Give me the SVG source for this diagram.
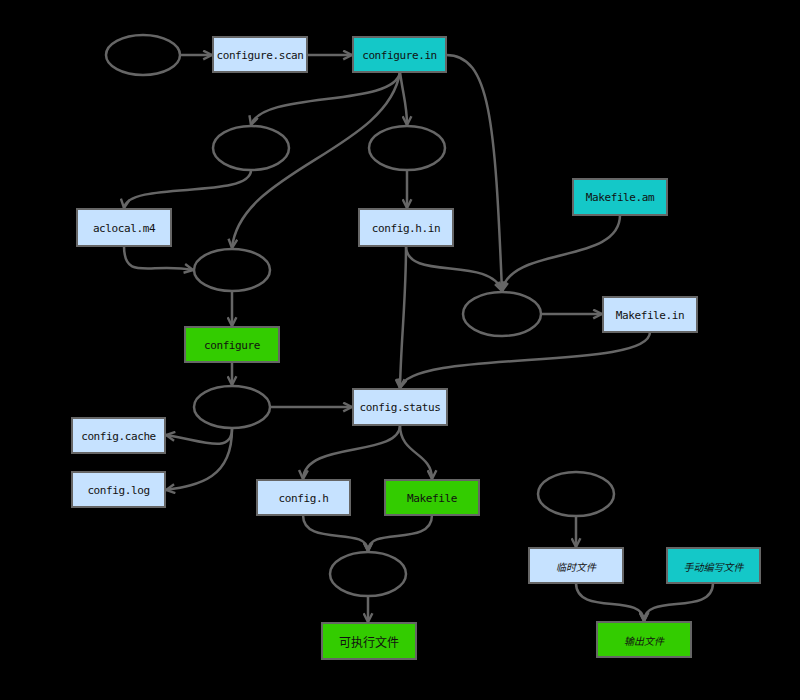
<svg xmlns="http://www.w3.org/2000/svg" width="800" height="700" viewBox="0 0 800 700">
<style>
.box{stroke:#666;stroke-width:2}
.tmp{fill:#c6e2ff}
.man{fill:#14c8c8}
.out{fill:#33cc00}
.ell{fill:none;stroke:#666;stroke-width:2.5}
.t{font-family:"DejaVu Sans Mono","Liberation Mono",monospace;font-size:11px;letter-spacing:-0.4px;fill:#111;text-anchor:middle;dominant-baseline:central}
.c{font-family:"Noto Sans CJK SC","Noto Sans",sans-serif;font-size:12px;fill:#111;text-anchor:middle;dominant-baseline:central}
.ci{font-family:"Noto Sans CJK SC","Noto Sans",sans-serif;font-size:10px;font-style:italic;fill:#111;text-anchor:middle;dominant-baseline:central}
#edges path{fill:none;stroke:#666;stroke-width:2.5;marker-end:url(#arr)}
</style>
<defs>
<marker id="arr" viewBox="0 0 10 10" refX="9" refY="5" markerWidth="4.4" markerHeight="4.4" orient="auto" markerUnits="strokeWidth">
<path d="M1,1 L9,5 L1,9" fill="none" stroke="#666" stroke-width="2.2"/>
</marker>
</defs>
<rect width="800" height="700" fill="#000"/>
<g id="edges">
<path d="M180,55 L212,55"/>
<path d="M307,55 L352,55"/>
<path d="M400,72 C395,108 262,90 251,125"/>
<path d="M400,72 C403,95 407,105 407,125"/>
<path d="M400,72 C388,150 240,170 232,248"/>
<path d="M446,55 C490,55 495,120 502,291"/>
<path d="M251,170 C251,200 128,180 124,208"/>
<path d="M407,170 L407,208"/>
<path d="M124,246 C124,282 150,262 193,270"/>
<path d="M406,246 C406,282 490,255 502,291"/>
<path d="M406,246 C406,300 401,340 400,388"/>
<path d="M620,215 C620,265 510,245 502,291"/>
<path d="M541,314 L602,314"/>
<path d="M650,332 C650,372 410,348 400,388"/>
<path d="M232,292 L232,326"/>
<path d="M232,362 L232,385"/>
<path d="M270,407 L352,407"/>
<path d="M232,429 C232,455 200,440 166,435"/>
<path d="M232,429 C232,478 200,485 166,490"/>
<path d="M400,425 C400,458 305,440 303,479"/>
<path d="M400,425 C400,455 432,452 432,479"/>
<path d="M303,515 C303,548 368,525 368,551"/>
<path d="M432,515 C432,548 368,525 368,551"/>
<path d="M368,596 L368,622"/>
<path d="M576,516 L576,547"/>
<path d="M576,583 C576,617 644,592 644,621"/>
<path d="M713,583 C713,617 644,592 644,621"/>
</g>
<g id="e1"><ellipse class="ell" cx="143" cy="55" rx="37" ry="20"/></g>
<g id="configure_scan"><rect class="box tmp" x="213" y="37" width="94" height="35"/><text class="t" x="260" y="55">configure.scan</text></g>
<g id="configure_in"><rect class="box man" x="353" y="37" width="93" height="35"/><text class="t" x="399.500" y="55">configure.in</text></g>
<g id="e2"><ellipse class="ell" cx="251" cy="148" rx="38" ry="22"/></g>
<g id="e3"><ellipse class="ell" cx="407" cy="148" rx="38" ry="22"/></g>
<g id="aclocal"><rect class="box tmp" x="77" y="209" width="94" height="37"/><text class="t" x="124" y="228">aclocal.m4</text></g>
<g id="config_h_in"><rect class="box tmp" x="359" y="209" width="94" height="37"/><text class="t" x="406" y="228">config.h.in</text></g>
<g id="makefile_am"><rect class="box man" x="573" y="179" width="94" height="36"/><text class="t" x="620" y="197">Makefile.am</text></g>
<g id="e4"><ellipse class="ell" cx="232" cy="270" rx="38" ry="21"/></g>
<g id="e5"><ellipse class="ell" cx="502" cy="314" rx="39" ry="22"/></g>
<g id="makefile_in"><rect class="box tmp" x="603" y="297" width="94" height="35"/><text class="t" x="650" y="315">Makefile.in</text></g>
<g id="configure"><rect class="box out" x="185" y="327" width="94" height="35"/><text class="t" x="232" y="345">configure</text></g>
<g id="e6"><ellipse class="ell" cx="232" cy="407" rx="38" ry="21"/></g>
<g id="config_status"><rect class="box tmp" x="353" y="389" width="94" height="36"/><text class="t" x="400" y="407">config.status</text></g>
<g id="config_cache"><rect class="box tmp" x="72" y="418" width="93" height="35"/><text class="t" x="118.500" y="436">config.cache</text></g>
<g id="config_log"><rect class="box tmp" x="72" y="472" width="93" height="35"/><text class="t" x="118.500" y="490">config.log</text></g>
<g id="config_h"><rect class="box tmp" x="257" y="480" width="93" height="35"/><text class="t" x="303.500" y="498">config.h</text></g>
<g id="makefile"><rect class="box out" x="385" y="480" width="94" height="35"/><text class="t" x="432" y="498">Makefile</text></g>
<g id="e7"><ellipse class="ell" cx="368" cy="574" rx="38" ry="22"/></g>
<g id="exe"><rect class="box out" x="322" y="623" width="94" height="36"/><text class="c" x="369" y="641">可执行文件</text></g>
<g id="e8"><ellipse class="ell" cx="576" cy="494" rx="38" ry="22"/></g>
<g id="legend_tmp"><rect class="box tmp" x="529" y="548" width="94" height="35"/><text class="ci" x="576" y="566">临时文件</text></g>
<g id="legend_man"><rect class="box man" x="667" y="548" width="93" height="35"/><text class="ci" x="713.500" y="566">手动编写文件</text></g>
<g id="legend_out"><rect class="box out" x="597" y="622" width="94" height="35"/><text class="ci" x="644" y="640">输出文件</text></g>
</svg>
